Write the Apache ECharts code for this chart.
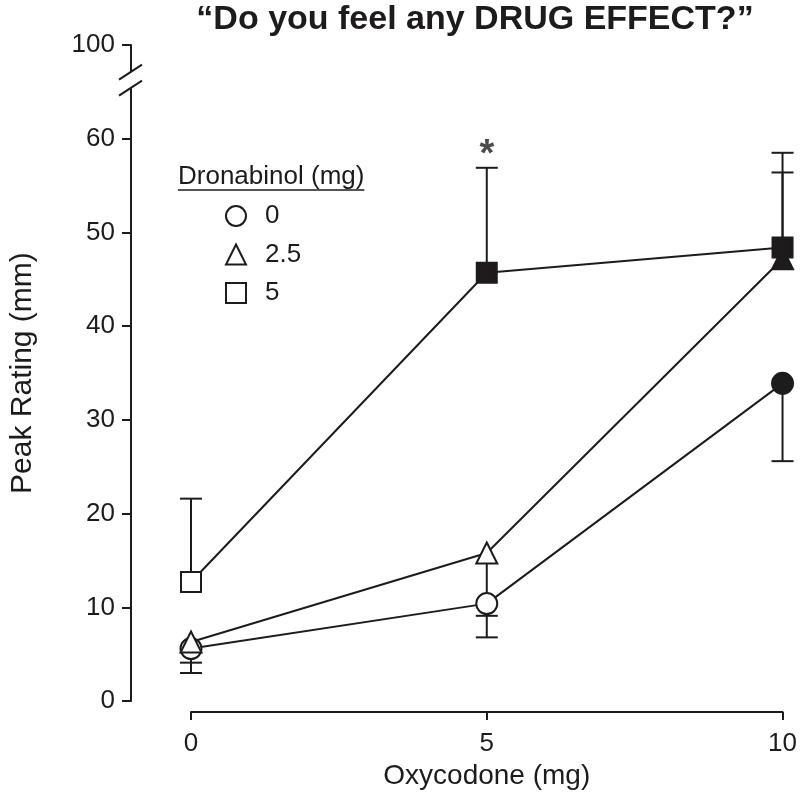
<!DOCTYPE html>
<html>
<head>
<meta charset="utf-8">
<script src="https://cdn.jsdelivr.net/npm/echarts@6/dist/echarts.min.js"></script>
<style>
html,body{margin:0;padding:0;background:#fff;}
#chart{width:800px;height:795px;}
</style>
</head>
<body>
<div id="chart"></div>
<script>
// ---------- data ----------
const oxycodone = [0, 5, 10];
const seriesNames = ['0', '2.5', '5'];
const dro0Mean   = [5.6, 10.4, 33.9];
const dro0ErrEnd = [3.0, 6.8, 25.6];
const dro25Mean   = [6.3, 15.8, 47.2];
const dro25ErrEnd = [4.1, 9.1, 56.4];
const dro5Mean   = [12.7, 45.7, 48.4];
const dro5ErrEnd = [21.6, 56.9, 58.5];
const yTickValues = [0, 10, 20, 30, 40, 50, 60, 70];
const yTickLabels = ['0', '10', '20', '30', '40', '50', '60', '100'];
const xTickLabels = ['0', '5', '10'];
const asteriskPoint = [5, 59.1];
const breakRange = [65.4, 67.1];

// ---------- styles ----------
const INK = '#1e1b1c';
const FONT = '"Liberation Sans", Arial, Helvetica, sans-serif';
const filledPoints = [[false, false, true], [false, false, true], [false, true, true]];
const symbols = ['circle', 'triangle', 'rect'];
const symbolSizes = [21, 21, 20];

const means = [dro0Mean, dro25Mean, dro5Mean];
const errEnds = [dro0ErrEnd, dro25ErrEnd, dro5ErrEnd];

const chart = echarts.init(document.getElementById('chart'), null, {renderer: 'canvas'});

const lineSeries = means.map((m, si) => ({
  type: 'line',
  name: seriesNames[si],
  z: 3 + si,
  symbol: symbols[si],
  symbolSize: symbolSizes[si],
  showAllSymbol: true,
  lineStyle: {color: INK, width: 2},
  itemStyle: {color: '#fff', borderColor: INK, borderWidth: 2, opacity: 1},
  emphasis: {disabled: true},
  data: m.map((v, i) => ({
    value: [oxycodone[i], v],
    itemStyle: {color: filledPoints[si][i] ? INK : '#fff'}
  }))
}));

const errData = [];
means.forEach((m, si) => m.forEach((v, i) => errData.push([oxycodone[i], v, errEnds[si][i]])));

const errSeries = {
  type: 'custom',
  z: 2,
  silent: true,
  renderItem: function (params, api) {
    const x = api.value(0);
    const p0 = api.coord([x, api.value(1)]);
    const p1 = api.coord([x, api.value(2)]);
    const hw = 11;
    return {
      type: 'group',
      children: [
        {type: 'line', shape: {x1: p0[0], y1: p0[1], x2: p1[0], y2: p1[1]}, style: {stroke: INK, lineWidth: 2}},
        {type: 'line', shape: {x1: p1[0] - hw, y1: p1[1], x2: p1[0] + hw, y2: p1[1]}, style: {stroke: INK, lineWidth: 2}}
      ]
    };
  },
  data: errData
};

const asteriskSeries = {
  type: 'scatter',
  z: 6,
  symbolSize: 1,
  itemStyle: {color: 'rgba(0,0,0,0)'},
  silent: true,
  label: {show: true, position: 'inside', formatter: '*', fontSize: 38, fontWeight: 'bold', fontFamily: FONT, color: INK, offset: [0, 8]},
  data: [asteriskPoint]
};

const option = {
  animation: false,
  backgroundColor: '#fff',
  textStyle: {fontFamily: FONT, color: INK},
  title: {
    text: '\u201cDo you feel any DRUG EFFECT?\u201d',
    left: 470, top: -2, textAlign: 'center',
    textStyle: {fontFamily: FONT, fontSize: 34, fontWeight: 'bold', color: INK}
  },
  grid: {left: 187, right: 16, top: 45, bottom: 91, containLabel: false},
  legend: {
    orient: 'vertical',
    left: 220, top: 198,
    itemWidth: 20, itemHeight: 20, itemGap: 12.5,
    selectedMode: false,
    textStyle: {fontFamily: FONT, fontSize: 26, color: INK, padding: [0, 0, 0, 14]},
    itemStyle: {color: '#fff', borderColor: INK, borderWidth: 2},
    data: seriesNames.map((n, i) => ({name: n, icon: symbols[i]}))
  },
  xAxis: {
    type: 'value', min: 0, max: 10, interval: 5, offset: 11,
    axisLine: {onZero: false, lineStyle: {color: INK, width: 2}},
    axisTick: {show: true, length: 8, lineStyle: {color: INK, width: 2}},
    axisLabel: {fontSize: 26, color: INK, fontFamily: FONT, margin: 19,
      formatter: v => xTickLabels[oxycodone.indexOf(v)]},
    splitLine: {show: false},
    name: 'Oxycodone (mg)', nameLocation: 'middle', nameGap: 45,
    nameTextStyle: {fontSize: 28, color: INK, fontFamily: FONT}
  },
  yAxis: {
    type: 'value', min: 0, max: 70, interval: 10, offset: 60,
    axisLine: {show: true, onZero: false, lineStyle: {color: INK, width: 2}},
    axisTick: {show: true, length: 9, lineStyle: {color: INK, width: 2}},
    axisLabel: {fontSize: 26, color: INK, fontFamily: FONT, margin: 16,
      formatter: v => yTickLabels[yTickValues.indexOf(v)]},
    splitLine: {show: false},
    name: 'Peak Rating (mm)', nameLocation: 'middle', nameGap: 93,
    nameTextStyle: {fontSize: 30, color: INK, fontFamily: FONT}
  },
  series: [errSeries].concat(lineSeries, [asteriskSeries])
};
chart.setOption(option);

// decorations: axis break and legend heading
const pA = chart.convertToPixel({gridIndex: 0}, [0, breakRange[0]]);
const pB = chart.convertToPixel({gridIndex: 0}, [0, breakRange[1]]);
const ax = pA[0] - 60;
const ctx = document.createElement('canvas').getContext('2d');
ctx.font = '26px ' + FONT;
const headW = ctx.measureText('Dronabinol (mg)').width;
chart.setOption({
  graphic: [
    {type: 'rect', z: 100, shape: {x: ax - 3, y: pB[1], width: 6, height: pA[1] - pB[1]}, style: {fill: '#fff'}},
    {type: 'line', z: 101, shape: {x1: ax - 12, y1: pA[1] + 7.5, x2: ax + 11, y2: pA[1] - 7.5}, style: {stroke: INK, lineWidth: 2}},
    {type: 'line', z: 101, shape: {x1: ax - 12, y1: pB[1] + 7.5, x2: ax + 11, y2: pB[1] - 7.5}, style: {stroke: INK, lineWidth: 2}},
    {type: 'text', z: 101, left: 178, top: 164, style: {text: 'Dronabinol (mg)', font: '26px ' + FONT, fill: INK}},
    {type: 'line', z: 101, shape: {x1: 178, y1: 190, x2: 178 + headW, y2: 190}, style: {stroke: INK, lineWidth: 1.5}}
  ]
});
</script>
</body>
</html>
